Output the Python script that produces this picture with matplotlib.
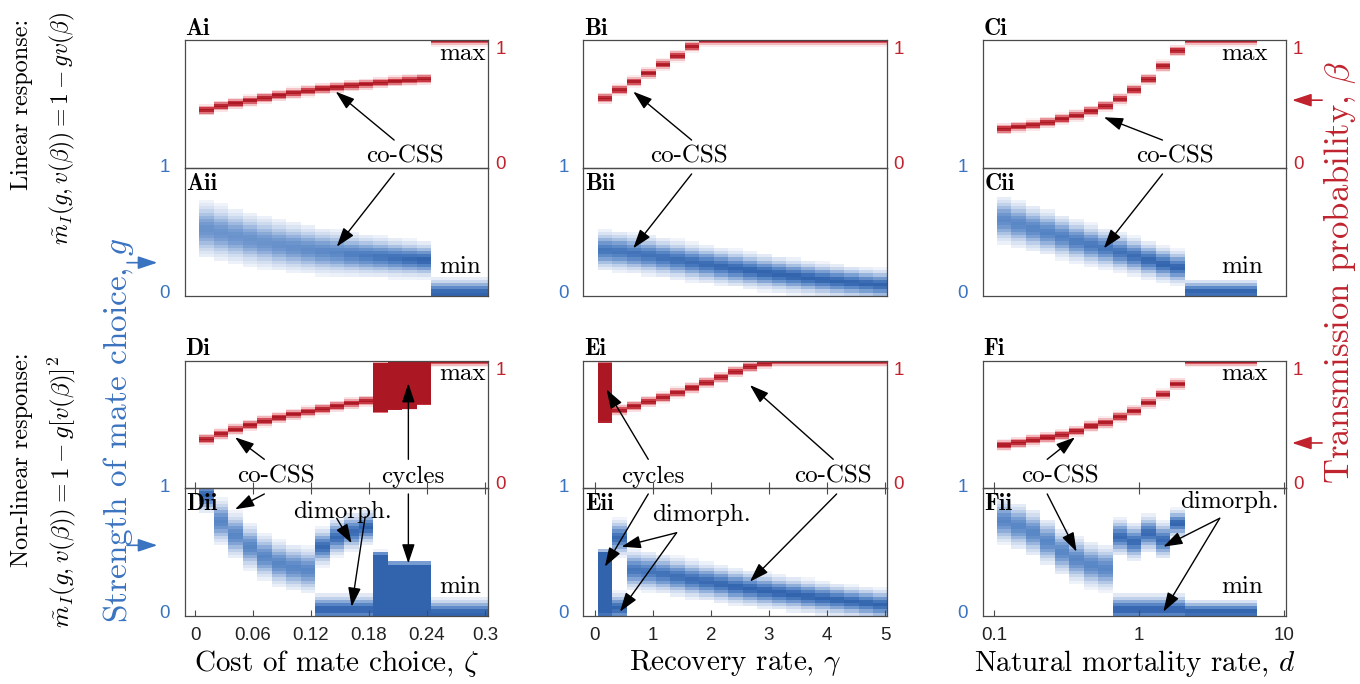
import numpy as np
import matplotlib
matplotlib.use('Agg')
import matplotlib.pyplot as plt
from matplotlib.colors import LinearSegmentedColormap
from matplotlib.text import Annotation
from matplotlib.ticker import FixedLocator, FixedFormatter, NullLocator

plt.rcParams['font.family'] = 'cmr10'
plt.rcParams['mathtext.fontset'] = 'cm'
plt.rcParams['axes.formatter.use_mathtext'] = True
plt.rcParams['axes.unicode_minus'] = False

# ---------------- data ----------------
zeta = [0.012, 0.027, 0.042, 0.057, 0.072, 0.087, 0.102, 0.117, 0.132, 0.147,
        0.162, 0.177, 0.192, 0.207, 0.222, 0.237, 0.252, 0.267, 0.282, 0.297]
gamma = [0.175, 0.425, 0.675, 0.925, 1.175, 1.425, 1.675, 1.925, 2.175, 2.425,
         2.675, 2.925, 3.175, 3.425, 3.675, 3.925, 4.175, 4.425, 4.675, 4.925]
dmort = [0.117, 0.147, 0.185, 0.232, 0.293, 0.368, 0.464, 0.584, 0.735, 0.925,
         1.165, 1.466, 1.846, 2.324, 2.926, 3.683, 4.637, 5.838]

# Linear response
A_beta = [0.453, 0.484, 0.505, 0.526, 0.547, 0.568, 0.586, 0.602, 0.618, 0.631,
          0.644, 0.655, 0.667, 0.678, 0.688, 0.696, 1.0, 1.0, 1.0, 1.0]
A_g = [0.519, 0.492, 0.466, 0.440, 0.417, 0.396, 0.378, 0.362, 0.347, 0.336,
       0.323, 0.313, 0.305, 0.295, 0.287, 0.279, 0.02, 0.02, 0.02, 0.02]
A_g_hw = [0.19, 0.185, 0.18, 0.178, 0.175, 0.17, 0.165, 0.16, 0.155, 0.15,
          0.14, 0.135, 0.13, 0.125, 0.12, 0.115, 0.1, 0.1, 0.1, 0.1]

B_beta = [0.545, 0.61, 0.675, 0.741, 0.811, 0.877, 0.95, 1.0, 1.0, 1.0,
          1.0, 1.0, 1.0, 1.0, 1.0, 1.0, 1.0, 1.0, 1.0, 1.0]
B_g = [0.355, 0.345, 0.33, 0.315, 0.298, 0.28, 0.262, 0.246, 0.229, 0.213,
       0.197, 0.182, 0.168, 0.154, 0.14, 0.127, 0.115, 0.104, 0.094, 0.085]
B_g_hw = [0.13, 0.13, 0.128, 0.127, 0.125, 0.124, 0.122, 0.12, 0.118, 0.117,
          0.115, 0.113, 0.112, 0.11, 0.108, 0.106, 0.105, 0.103, 0.1, 0.1]

C_beta = [0.304, 0.322, 0.335, 0.356, 0.385, 0.411, 0.445, 0.484, 0.539, 0.61,
          0.694, 0.798, 0.918, 1.0, 1.0, 1.0, 1.0, 1.0]
C_g = [0.591, 0.56, 0.526, 0.495, 0.461, 0.427, 0.396, 0.37, 0.339, 0.31,
       0.279, 0.248, 0.222, 0.03, 0.03, 0.03, 0.03, 0.03]
C_g_hw = [0.156, 0.152, 0.148, 0.145, 0.142, 0.138, 0.134, 0.13, 0.126, 0.122,
          0.118, 0.114, 0.11, 0.08, 0.08, 0.08, 0.08, 0.08]

# Non-linear response
D_beta = [0.382, 0.424, 0.461, 0.495, 0.526, 0.553, 0.579, 0.600, 0.621, 0.645,
          0.666, 0.684, 0.60, 0.62, 0.63, 0.66, 1.0, 1.0, 1.0, 1.0]
D_g = [0.94, 0.735, 0.63, 0.539, 0.461, 0.409, 0.378, 0.357, 0.539, 0.612,
       0.656, 0.69, 0.0, 0.0, 0.0, 0.0, 0.02, 0.02, 0.02, 0.02]
D_g_hw = [0.11, 0.15, 0.15, 0.15, 0.15, 0.15, 0.15, 0.15, 0.12, 0.12,
          0.12, 0.11, 0.04, 0.04, 0.04, 0.04, 0.1, 0.1, 0.1, 0.1]
D_cycle_cols = [12, 13, 14, 15]
D_cycle_beta_hi = [0.985, 1.0, 1.0, 1.0]
D_cycle_g_hi = [0.474, 0.396, 0.396, 0.396]
D_dimorph_cols = [8, 9, 10, 11]
D_dimorph_g_low = [0.05, 0.05, 0.05, 0.05]

E_beta = [0.521, 0.613, 0.645, 0.679, 0.713, 0.75, 0.789, 0.829, 0.871, 0.916,
          0.955, 0.982, 1.0, 1.0, 1.0, 1.0, 1.0, 1.0, 1.0, 1.0]
E_g = [0.02, 0.61, 0.357, 0.344, 0.326, 0.305, 0.284, 0.266, 0.248, 0.227,
       0.211, 0.195, 0.18, 0.167, 0.152, 0.138, 0.125, 0.112, 0.099, 0.086]
E_g_hw = [0.04, 0.12, 0.13, 0.128, 0.126, 0.124, 0.122, 0.12, 0.118, 0.116,
          0.114, 0.112, 0.11, 0.108, 0.106, 0.104, 0.102, 0.1, 0.1, 0.1]
E_cycle_cols = [0]
E_cycle_beta_hi = [0.987]
E_cycle_g_hi = [0.49]
E_dimorph_cols = [1]
E_dimorph_g_low = [0.06]

F_beta = [0.337, 0.355, 0.376, 0.395, 0.416, 0.447, 0.487, 0.513, 0.56, 0.605,
          0.671, 0.737, 0.818, 1.0, 1.0, 1.0, 1.0, 1.0]
F_g = [0.74, 0.70, 0.65, 0.578, 0.50, 0.44, 0.396, 0.37, 0.617, 0.578,
       0.644, 0.591, 0.722, 0.03, 0.03, 0.03, 0.03, 0.03]
F_g_hw = [0.15, 0.15, 0.15, 0.15, 0.15, 0.15, 0.15, 0.15, 0.12, 0.12,
          0.12, 0.12, 0.09, 0.08, 0.08, 0.08, 0.08, 0.08]
F_dimorph_cols = [8, 9, 10, 11, 12]
F_dimorph_g_low = [0.05, 0.05, 0.05, 0.05, 0.05]

# ---------------- style ----------------
BLUE = '#3a73c0'
RED = '#c0232e'
blue_cmap = LinearSegmentedColormap.from_list(
    'b', [(0, '#ffffff'), (0.1, '#e2e9f5'), (0.3, '#b4c8e6'), (0.55, '#7ca0d3'),
          (0.8, '#5382c3'), (1.0, '#3264ae')])
red_cmap = LinearSegmentedColormap.from_list(
    'r', [(0, '#ffffff'), (0.15, '#f7d8da'), (0.4, '#e9979d'), (0.7, '#cc3d48'),
          (1.0, '#ab1824')])
RED_HW = 0.042
LOW_HW = 0.1
CYC_HW = 0.03


def edges_lin(c):
    c = np.asarray(c, float)
    s = np.diff(c)
    return np.concatenate([[c[0] - s[0] / 2], (c[:-1] + c[1:]) / 2, [c[-1] + s[-1] / 2]])


def edges_log(c):
    return 10 ** edges_lin(np.log10(c))


def draw_bands(ax, xe, columns, ystep, cmap, red=False):
    yedges = np.arange(-0.1, 1.1 + 1e-9, ystep)
    yc = (yedges[:-1] + yedges[1:]) / 2
    Z = np.zeros((len(yc), len(xe) - 1))
    for i, comps in enumerate(columns):
        for lo, hi, hw in comps:
            d = np.maximum(0, np.maximum(lo - yc, yc - hi))
            sig = hw / 2.2 if red else hw / 1.9
            prof = np.exp(-0.5 * (d / sig) ** 2)
            if red or hi > lo:
                pk = 1.0
            else:
                pk = float(np.clip(0.115 / hw, 0.66, 1.0))
            Z[:, i] = np.maximum(Z[:, i], pk * prof)
    Zm = np.ma.masked_less(Z, 0.05)
    ax.pcolormesh(xe, yedges, Zm, cmap=cmap, vmin=0, vmax=1, shading='flat',
                  edgecolors='none', antialiased=False, zorder=1)


def beta_columns(beta, cyc_cols=(), cyc_hi=()):
    cols = [[(b, b, RED_HW)] for b in beta]
    for k, c in enumerate(cyc_cols):
        cols[c] = [(beta[c], cyc_hi[k], 0.012)]
    return cols


def g_columns(g, hw, cyc_cols=(), cyc_hi=(), dim_cols=(), dim_low=()):
    cols = [[(v, v, h)] for v, h in zip(g, hw)]
    for k, c in enumerate(cyc_cols):
        cols[c] = [(g[c], cyc_hi[k], CYC_HW)]
    for k, c in enumerate(dim_cols):
        cols[c].append((dim_low[k], dim_low[k], LOW_HW))
    return cols


fig = plt.figure(figsize=(13.6, 6.84), dpi=100)
W, H = 1360.0, 684.0
col_x = [(184.7, 488.3), (583.3, 886.7), (982.7, 1286.0)]
row_y = [(40.3, 167.7), (167.7, 295.7), (361.0, 487.7), (487.7, 615.7)]
axs = [[None] * 3 for _ in range(4)]
for r, (yt, yb) in enumerate(row_y):
    for c, (xl, xr) in enumerate(col_x):
        ax = fig.add_axes([xl / W, 1 - yb / H, (xr - xl) / W, (yb - yt) / H])
        ax.set_facecolor('none')
        for s in ax.spines.values():
            s.set_color('#4a4a4a')
            s.set_linewidth(0.9)
        axs[r][c] = ax

xlims = [(-0.0107, 0.3034), (-0.2, 5.03), (0.0832, 10.33)]
xticks = [[0, 0.06, 0.12, 0.18, 0.24, 0.3], [0, 1, 2, 3, 4, 5], [0.1, 1, 10]]
xticklabels = [['0', '0.06', '0.12', '0.18', '0.24', '0.3'],
               ['0', '1', '2', '3', '4', '5'], ['0.1', '1', '10']]
xlabels = [r'Cost of mate choice, $\zeta$', r'Recovery rate, $\gamma$',
           r'Natural mortality rate, $d$']

xe_all = [edges_lin(zeta), edges_lin(gamma), edges_log(dmort)]

panels = {
    (0, 0): beta_columns(A_beta),
    (1, 0): g_columns(A_g, A_g_hw),
    (0, 1): beta_columns(B_beta),
    (1, 1): g_columns(B_g, B_g_hw),
    (0, 2): beta_columns(C_beta),
    (1, 2): g_columns(C_g, C_g_hw),
    (2, 0): beta_columns(D_beta, D_cycle_cols, D_cycle_beta_hi),
    (3, 0): g_columns(D_g, D_g_hw, D_cycle_cols, D_cycle_g_hi, D_dimorph_cols, D_dimorph_g_low),
    (2, 1): beta_columns(E_beta, E_cycle_cols, E_cycle_beta_hi),
    (3, 1): g_columns(E_g, E_g_hw, E_cycle_cols, E_cycle_g_hi, E_dimorph_cols, E_dimorph_g_low),
    (2, 2): beta_columns(F_beta),
    (3, 2): g_columns(F_g, F_g_hw, (), (), F_dimorph_cols, F_dimorph_g_low),
}

names = [['Ai', 'Bi', 'Ci'], ['Aii', 'Bii', 'Cii'], ['Di', 'Ei', 'Fi'], ['Dii', 'Eii', 'Fii']]
tickfont = 'Liberation Sans'

for r in range(4):
    for c in range(3):
        ax = axs[r][c]
        if c == 2:
            ax.set_xscale('log')
        ax.set_xlim(*xlims[c])
        ax.set_ylim(0, 1)
        is_beta = (r % 2 == 0)
        draw_bands(ax, xe_all[c], panels[(r, c)], 0.0125 if is_beta else 0.025,
                   red_cmap if is_beta else blue_cmap, red=is_beta)
        ax.yaxis.set_major_locator(NullLocator())
        ax.yaxis.set_minor_locator(NullLocator())
        ax.xaxis.set_minor_locator(NullLocator())
        ax.xaxis.set_major_locator(FixedLocator(xticks[c]))
        if r == 3:
            ax.xaxis.set_major_formatter(FixedFormatter(xticklabels[c]))
            ax.tick_params(axis='x', direction='in', top=True, length=4, width=0.8,
                           color='#4a4a4a', pad=8, labelsize=13.5, labelcolor='#222222')
            for lab in ax.get_xticklabels():
                lab.set_fontfamily(tickfont)
            ax.set_xlabel(xlabels[c], fontsize=21, labelpad=3)
        elif r == 2:
            ax.tick_params(axis='x', direction='in', length=4, width=0.8,
                           color='#4a4a4a', labelbottom=False)
        else:
            ax.tick_params(axis='x', length=0, labelbottom=False)
        # panel label
        if is_beta:
            ax.text(0.003, 1.005, names[r][c], transform=ax.transAxes, ha='left',
                    va='bottom', fontsize=17, fontfamily='cmb10')
            ax.text(1.04, 0.925, '1', transform=ax.transAxes, ha='center', va='center',
                    color=RED, fontsize=13.5, fontfamily=tickfont)
            ax.text(1.04, 0.025, '0', transform=ax.transAxes, ha='center', va='center',
                    color=RED, fontsize=13.5, fontfamily=tickfont)
        else:
            ax.text(0.005, 0.955, names[r][c], transform=ax.transAxes, ha='left',
                    va='top', fontsize=17, fontfamily='cmb10')
            ax.text(-0.065, 1.0, '1', transform=ax.transAxes, ha='center', va='center',
                    color=BLUE, fontsize=13.5, fontfamily=tickfont)
            ax.text(-0.065, 0.015, '0', transform=ax.transAxes, ha='center', va='center',
                    color=BLUE, fontsize=13.5, fontfamily=tickfont)

ANN_FS = 18


def label(ax, x, y, s):
    ax.text(x, y, s, ha='center', va='center', fontsize=ANN_FS, zorder=5)


def arrow(ax_from, p_from, ax_to, p_to, color='k', tf_from=None, tf_to=None, lw=1.0):
    a = Annotation('', xy=p_to, xycoords=tf_to or ax_to.transData,
                   xytext=p_from, textcoords=tf_from or ax_from.transData,
                   arrowprops=dict(arrowstyle='-|>,head_length=0.9,head_width=0.3',
                                   color=color, lw=lw, shrinkA=0, shrinkB=0,
                                   mutation_scale=13))
    a.set_zorder(6)
    fig.add_artist(a)


Ai, Bi, Ci = axs[0]
Aii, Bii, Cii = axs[1]
Di, Ei, Fi = axs[2]
Dii, Eii, Fii = axs[3]

# Column A
label(Ai, 0.217, 0.086, 'co-CSS')
arrow(Ai, (0.206, 0.217), Ai, (0.1455, 0.597))
arrow(Aii, (0.206, 0.956), Aii, (0.1466, 0.383))
label(Ai, 0.277, 0.892, 'max')
label(Aii, 0.274, 0.227, 'min')
# Column B
label(Bi, 1.626, 0.086, 'co-CSS')
arrow(Bi, (1.667, 0.217), Bi, (0.661, 0.597))
arrow(Bii, (1.667, 0.951), Bii, (0.661, 0.37))
# Column C
label(Ci, 1.76, 0.086, 'co-CSS')
arrow(Ci, (1.45, 0.217), Ci, (0.571, 0.396))
arrow(Cii, (1.45, 0.951), Cii, (0.571, 0.37))
label(Ci, 5.36, 0.892, 'max')
label(Cii, 5.16, 0.227, 'min')
# Column D
label(Di, 0.0838, 0.087, 'co-CSS')
arrow(Di, (0.0717, 0.224), Di, (0.0414, 0.398))
arrow(Dii, (0.0717, 0.951), Dii, (0.0414, 0.831))
label(Di, 0.2258, 0.087, 'cycles')
arrow(Di, (0.2207, 0.224), Di, (0.2207, 0.824))
arrow(Dii, (0.2207, 0.951), Dii, (0.2207, 0.409))
label(Dii, 0.153, 0.8125, 'dimorph.')
arrow(Dii, (0.1466, 0.761), Dii, (0.162, 0.566))
arrow(Dii, (0.176, 0.773), Dii, (0.162, 0.07))
label(Di, 0.277, 0.897, 'max')
label(Dii, 0.274, 0.227, 'min')
# Column E
label(Ei, 1.006, 0.087, 'cycles')
arrow(Ei, (0.92, 0.224), Ei, (0.2, 0.776))
arrow(Eii, (0.92, 0.951), Eii, (0.172, 0.383))
label(Ei, 4.109, 0.087, 'co-CSS')
arrow(Ei, (4.109, 0.224), Ei, (2.672, 0.81))
arrow(Eii, (4.167, 0.951), Eii, (2.672, 0.266))
label(Eii, 1.84, 0.787, 'dimorph.')
arrow(Eii, (1.408, 0.648), Eii, (0.46, 0.539))
arrow(Eii, (1.408, 0.648), Eii, (0.431, 0.031))
# Column F
label(Fi, 0.284, 0.087, 'co-CSS')
arrow(Fi, (0.232, 0.224), Fi, (0.361, 0.398))
arrow(Fii, (0.232, 0.951), Fii, (0.37, 0.5))
label(Fi, 5.36, 0.897, 'max')
label(Fii, 5.16, 0.227, 'min')
label(Fii, 4.23, 0.89, 'dimorph.')
arrow(Fii, (3.6, 0.761), Fii, (1.47, 0.539))
arrow(Fii, (3.6, 0.761), Fii, (1.47, 0.031))

# side markers
arrow(Aii, (-0.19, 0.258), Aii, (-0.09, 0.258), color=BLUE,
      tf_from=Aii.transAxes, tf_to=Aii.transAxes, lw=1.2)
arrow(Dii, (-0.19, 0.55), Dii, (-0.09, 0.55), color=BLUE,
      tf_from=Dii.transAxes, tf_to=Dii.transAxes, lw=1.2)
arrow(Ci, (1.119, 0.53), Ci, (1.02, 0.53), color=RED,
      tf_from=Ci.transAxes, tf_to=Ci.transAxes, lw=1.2)
arrow(Fi, (1.119, 0.353), Fi, (1.02, 0.353), color=RED,
      tf_from=Fi.transAxes, tf_to=Fi.transAxes, lw=1.2)

# side labels
fig.text(22 / W, 1 - 104 / H, 'Linear response:', rotation=90, ha='center', va='center', fontsize=17.5)
fig.text(62 / W, 1 - 128 / H, r'$\tilde{m}_I(g,v(\beta))=1-gv(\beta)$', rotation=90,
         ha='center', va='center', fontsize=17)
fig.text(22 / W, 1 - 460 / H, 'Non-linear response:', rotation=90, ha='center', va='center', fontsize=17.5)
fig.text(62 / W, 1 - 492 / H, r'$\tilde{m}_I(g,v(\beta))=1-g[v(\beta)]^2$', rotation=90,
         ha='center', va='center', fontsize=18)
fig.text(118 / W, 1 - 430 / H, r'Strength of mate choice, $g$', rotation=90, ha='center',
         va='center', fontsize=24, color=BLUE)
fig.text(1340 / W, 1 - 272 / H, r'Transmission probability, $\beta$', rotation=90, ha='center',
         va='center', fontsize=25, color=RED)

fig.savefig('out.png', dpi=100)
